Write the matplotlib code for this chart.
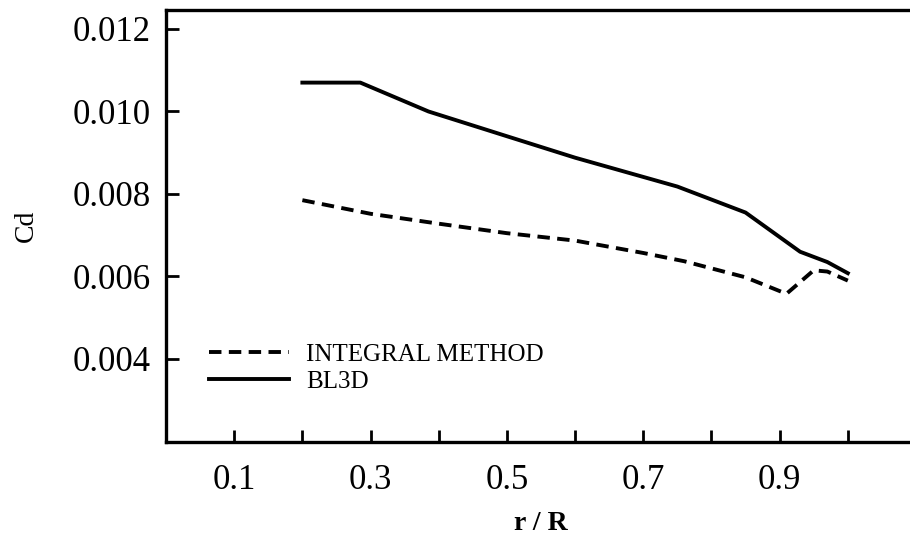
import matplotlib
matplotlib.use("Agg")
import matplotlib.pyplot as plt

# radial station r/R and section drag coefficient
r_bl3d = [0.20, 0.285, 0.385, 0.50, 0.60, 0.75, 0.85, 0.93, 0.97, 1.00]
cd_bl3d = [0.01070, 0.01070, 0.01000, 0.00940, 0.00888, 0.00818, 0.00755, 0.00660, 0.00635, 0.00608]

r_integral = [0.20, 0.30, 0.40, 0.50, 0.60, 0.70, 0.76, 0.85, 0.91, 0.95, 0.97, 1.00]
cd_integral = [0.00785, 0.00752, 0.00728, 0.00705, 0.00687, 0.00657, 0.00637, 0.00598, 0.00558, 0.00615, 0.00612, 0.00590]

x_ticks = [0.1, 0.2, 0.3, 0.4, 0.5, 0.6, 0.7, 0.8, 0.9, 1.0]
x_labels = ['0.1', '', '0.3', '', '0.5', '', '0.7', '', '0.9', '']
y_ticks = [0.002, 0.004, 0.006, 0.008, 0.010, 0.012]
y_labels = ['', '0.004', '0.006', '0.008', '0.010', '0.012']

plt.rcParams['font.family'] = ['Liberation Serif', 'DejaVu Serif']

fig = plt.figure(figsize=(9.1, 5.44), dpi=100)
ax = fig.add_axes([166 / 910, 102.5 / 544, 750 / 910, 431.5 / 544])

ax.plot(r_integral, cd_integral, color='black', lw=2.8, dashes=(3.2, 1.9),
        label='INTEGRAL METHOD')
ax.plot(r_bl3d, cd_bl3d, color='black', lw=2.8, label='BL3D')

ax.set_xlim(0, 1.1)
ax.set_ylim(0.002, 0.01246)
ax.set_xticks(x_ticks, x_labels)
ax.set_yticks(y_ticks, y_labels)
ax.tick_params(direction='in', length=9, width=2, labelsize=25, color='black')
ax.tick_params(axis='x', pad=16)
ax.tick_params(axis='y', pad=11)
for s in ax.spines.values():
    s.set_linewidth(2.4)

ax.set_xlabel('r / R', fontsize=20, fontweight='bold', labelpad=10)
ax.set_ylabel('Cd', fontsize=20, labelpad=24)

ax.legend(loc='upper left', bbox_to_anchor=(0.057, 0.228), frameon=False,
          fontsize=18, handlelength=3.2, handletextpad=0.7, labelspacing=0.2,
          borderpad=0, borderaxespad=0)

fig.savefig('out.png', dpi=100)
